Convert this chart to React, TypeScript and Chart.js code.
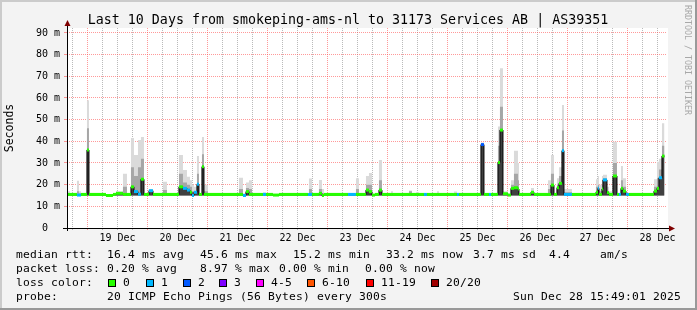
import React, { useEffect, useRef } from 'react';
import { Chart, registerables } from 'chart.js';

Chart.register(...registerables);

const MONO = '"DejaVu Sans Mono", "Liberation Mono", monospace';

const TITLE = 'Last 10 Days from smokeping-ams-nl to 31173 Services AB | AS39351';
const Y_TITLE = 'Seconds';
const CREDIT = 'RRDTOOL / TOBI OETIKER';

// x values are hours since 18 Dec 00:00
const X_MIN = 15.8167;
const X_MAX = 255.8167;
const DATA_END = 254.8;
const SMOKE_FLOOR = 15;

const segStart = [
  15.8, 17.0, 19.8, 20.6, 21.4, 23.8, 24.6, 31.4, 34.2, 35.4,
  38.2, 39.8, 41.4, 42.6, 44.2, 45.4, 46.6, 48.6, 50.2, 54.2,
  55.8, 60.6, 62.2, 63.8, 65.0, 65.8, 66.6, 67.8, 68.6, 69.8,
  70.6, 72.2, 84.6, 86.2, 87.4, 88.6, 89.8, 94.2, 95.4, 98.2,
  100.6, 112.2, 112.6, 113.8, 116.6, 117.8, 118.6, 128.2, 131.4, 132.6,
  135.4, 136.6, 137.8, 139.0, 140.6, 141.8, 145.4, 146.2, 152.6, 153.8,
  155.4, 156.6, 158.6, 159.8, 163.8, 164.6, 170.6, 171.8, 172.6, 181.4,
  182.6, 184.6, 185.4, 188.2, 189.0, 190.2, 192.2, 193.4, 194.6, 196.2,
  196.6, 201.4, 202.6, 208.2, 209.4, 210.6, 211.8, 212.6, 213.8, 214.6,
  217.8, 227.4, 228.2, 228.6, 229.8, 230.2, 231.8, 232.6, 234.2, 235.8,
  236.6, 237.4, 238.2, 239.4, 240.6, 250.6, 251.8, 252.6, 253.8,
];

const segMedian = [
  15.5, 15.5, 15.2, 15.2, 15.5, 36.0, 15.5, 15.0, 15.5, 16.0,
  15.5, 15.5, 19.0, 16.8, 15.6, 22.5, 15.5, 17.2, 15.5, 15.5,
  15.5, 19.0, 18.3, 17.5, 16.5, 15.0, 16.5, 20.2, 15.5, 28.3,
  15.5, 15.5, 15.5, 15.0, 16.8, 15.5, 15.5, 15.5, 15.5, 15.2,
  15.5, 15.5, 15.5, 15.5, 16.0, 15.0, 15.5, 15.5, 15.5, 15.5,
  17.5, 16.8, 15.2, 15.5, 17.5, 15.5, 15.5, 15.5, 15.5, 15.5,
  15.5, 15.5, 15.5, 15.5, 15.5, 15.5, 15.5, 15.5, 15.5, 38.5,
  15.5, 15.5, 15.5, 30.2, 45.2, 15.8, 15.2, 18.3, 18.6, 18.0,
  15.5, 16.5, 15.5, 15.5, 19.8, 15.5, 18.6, 20.6, 35.7, 15.5,
  15.5, 16.5, 18.3, 15.5, 18.0, 22.2, 16.3, 15.5, 24.0, 15.5,
  15.5, 18.3, 17.0, 15.5, 15.5, 17.0, 18.3, 23.2, 33.2,
];

const segLoss = [
  0, 0, 1, 1, 0, 0, 0, 0, 0, 0,
  0, 0, 0, 1, 1, 0, 0, 1, 0, 0,
  0, 0, 1, 1, 0, 1, 1, 1, 0, 0,
  0, 0, 0, 1, 0, 0, 0, 1, 0, 0,
  0, 1, 1, 0, 0, 0, 0, 1, 0, 0,
  0, 0, 0, 0, 0, 0, 0, 0, 0, 0,
  0, 0, 1, 0, 0, 0, 0, 1, 0, 2,
  0, 1, 0, 0, 0, 0, 0, 0, 0, 0,
  0, 0, 0, 0, 0, 0, 0, 0, 1, 1,
  0, 0, 1, 0, 0, 1, 0, 0, 0, 0,
  1, 0, 0, 1, 0, 0, 0, 1, 0,
];

const segSmokeHi = [
  17.0, 15.8, 21.8, 17.0, 16.0, 59.0, 15.8, 15.4, 15.8, 17.0,
  25.0, 16.0, 41.5, 33.7, 40.6, 42.0, 16.0, 18.0, 15.8, 21.4,
  15.8, 33.7, 26.8, 23.7, 22.0, 20.0, 19.0, 33.2, 16.0, 42.0,
  20.0, 15.8, 23.2, 16.0, 21.0, 22.0, 15.8, 16.5, 15.8, 15.5,
  15.8, 16.0, 22.9, 15.8, 22.2, 18.0, 15.8, 15.8, 23.0, 15.8,
  24.0, 25.4, 15.5, 15.8, 31.4, 15.8, 17.0, 15.8, 17.3, 15.8,
  16.5, 15.8, 15.8, 15.8, 17.0, 15.8, 16.8, 15.8, 15.8, 39.5,
  15.8, 15.8, 15.8, 46.8, 73.7, 17.0, 15.5, 22.0, 35.7, 30.0,
  15.8, 18.5, 15.8, 22.0, 33.7, 15.8, 23.0, 28.0, 56.8, 18.0,
  15.8, 22.5, 24.0, 20.0, 24.0, 24.6, 19.0, 17.0, 39.8, 16.0,
  15.8, 28.6, 23.0, 15.8, 15.8, 22.5, 30.6, 32.0, 48.3,
];

const segSmokeMid = [
  16.0, 15.6, 17.0, 16.0, 15.6, 46.0, 15.6, 15.2, 15.6, 16.5,
  19.0, 15.6, 28.0, 24.0, 28.0, 32.0, 15.6, 17.5, 15.6, 17.5,
  15.6, 25.0, 21.0, 20.0, 19.0, 17.0, 17.0, 25.0, 15.6, 34.0,
  17.0, 15.6, 18.0, 15.5, 18.5, 18.0, 15.6, 15.8, 15.6, 15.3,
  15.6, 15.6, 18.0, 15.6, 18.0, 16.0, 15.6, 15.6, 18.0, 15.6,
  20.0, 20.0, 15.3, 15.6, 22.0, 15.6, 16.0, 15.6, 17.0, 15.6,
  16.0, 15.6, 15.6, 15.6, 16.0, 15.6, 16.0, 15.6, 15.6, 38.5,
  15.6, 15.6, 15.6, 38.0, 56.0, 16.0, 15.3, 20.0, 25.0, 22.0,
  15.6, 17.0, 15.6, 18.0, 25.0, 15.6, 20.0, 24.0, 45.0, 16.5,
  15.6, 19.0, 20.0, 17.0, 20.0, 23.0, 17.0, 16.0, 30.0, 15.6,
  15.6, 22.0, 19.0, 15.6, 15.6, 19.0, 23.0, 27.0, 38.0,
];

const dayLabels = ['19 Dec', '20 Dec', '21 Dec', '22 Dec', '23 Dec', '24 Dec', '25 Dec', '26 Dec', '27 Dec', '28 Dec'];
const yLabelValues = [0, 10, 20, 30, 40, 50, 60, 70, 80, 90];
const yLabelTexts = ['0  ', '10 m', '20 m', '30 m', '40 m', '50 m', '60 m', '70 m', '80 m', '90 m'];

const lossColors = ['#26ff00', '#00b8ff', '#0059ff', '#7e00ff', '#ff00ff', '#ff5500', '#ff0000', '#a10000'];
const lossLabels = ['0', '1', '2', '3', '4-5', '6-10', '11-19', '20/20'];

const rttHeader = 'median rtt:';
const rttStats = ['16.4 ms avg', '45.6 ms max', '15.2 ms min', '33.2 ms now', '3.7 ms sd', '4.4', 'am/s'];
const lossHeader = 'packet loss:';
const lossStats = ['0.20 % avg', '8.97 % max', '0.00 % min', '0.00 % now'];
const colorHeader = 'loss color:';
const probeHeader = 'probe:';
const probeText = '20 ICMP Echo Pings (56 Bytes) every 300s';
const stampText = 'Sun Dec 28 15:49:01 2025';

const MAJOR = 'rgba(255,70,70,0.55)';
const MINOR = 'rgba(130,130,130,0.55)';

export default function App() {
  const ref = useRef<HTMLCanvasElement>(null);

  useEffect(() => {
    document.body.style.margin = '0';
    const canvas = ref.current;
    if (!canvas) return;

    const stepPts = (vals: number[]) => {
      const pts = segStart.map((x, i) => ({ x, y: vals[i] }));
      pts.push({ x: DATA_END, y: vals[vals.length - 1] });
      return pts;
    };

    const colored: { x: number; y: number | null; l: number }[] = [];
    segStart.forEach((s, i) => {
      const e = i + 1 < segStart.length ? segStart[i + 1] : DATA_END;
      colored.push({ x: s, y: segMedian[i], l: segLoss[i] });
      colored.push({ x: e, y: segMedian[i], l: segLoss[i] });
      colored.push({ x: e, y: null, l: segLoss[i] });
    });

    const framePlugin = {
      id: 'frame',
      beforeDraw(chart: any) {
        const { ctx, width, height, chartArea: a } = chart;
        ctx.save();
        ctx.fillStyle = '#f3f3f3';
        ctx.fillRect(0, 0, width, height);
        ctx.fillStyle = '#cbcbcb';
        ctx.fillRect(0, 0, width, 2);
        ctx.fillRect(0, 0, 2, height);
        ctx.fillStyle = '#999999';
        ctx.fillRect(0, height - 2, width, 2);
        ctx.fillRect(width - 2, 0, 2, height);
        ctx.fillStyle = '#ffffff';
        ctx.fillRect(a.left, a.top, a.right - a.left + 1, a.bottom - a.top);
        ctx.restore();
      },
      afterDatasetsDraw(chart: any) {
        const { ctx, chartArea: a } = chart;
        ctx.save();
        ctx.strokeStyle = '#000';
        ctx.lineWidth = 1;
        ctx.beginPath();
        ctx.moveTo(a.left + 0.5, a.bottom + 3);
        ctx.lineTo(a.left + 0.5, 22);
        ctx.stroke();
        ctx.beginPath();
        ctx.moveTo(a.left - 4, a.bottom + 0.5);
        ctx.lineTo(671, a.bottom + 0.5);
        ctx.stroke();
        ctx.fillStyle = '#7f0000';
        ctx.beginPath();
        ctx.moveTo(a.left - 2.5, 26);
        ctx.lineTo(a.left + 3.5, 26);
        ctx.lineTo(a.left + 0.5, 20);
        ctx.closePath();
        ctx.fill();
        ctx.beginPath();
        ctx.moveTo(669, a.bottom - 2.5);
        ctx.lineTo(669, a.bottom + 3.5);
        ctx.lineTo(675, a.bottom + 0.5);
        ctx.closePath();
        ctx.fill();
        ctx.restore();
      },
      afterDraw(chart: any) {
        const { ctx } = chart;
        ctx.save();
        ctx.fillStyle = '#000';
        ctx.textBaseline = 'alphabetic';
        ctx.font = `13.3px ${MONO}`;
        ctx.textAlign = 'center';
        ctx.fillText(TITLE, 348, 24);

        ctx.font = `11.3px ${MONO}`;
        try {
          (ctx as any).letterSpacing = '0.2px';
        } catch (e) {
          /* ignore */
        }
        ctx.textAlign = 'left';
        const rttX = [107, 200, 293, 386, 473, 549, 600];
        ctx.fillText(rttHeader, 16, 258);
        rttStats.forEach((t, i) => ctx.fillText(t, rttX[i], 258));
        const lossX = [107, 200, 279, 365];
        ctx.fillText(lossHeader, 16, 272);
        lossStats.forEach((t, i) => ctx.fillText(t, lossX[i], 272));
        ctx.fillText(colorHeader, 16, 286);
        const boxX = [108, 146, 183, 219, 256, 307, 366, 431];
        lossLabels.forEach((t, i) => {
          ctx.fillStyle = lossColors[i];
          ctx.fillRect(boxX[i], 279, 8, 8);
          ctx.strokeStyle = '#000';
          ctx.lineWidth = 1;
          ctx.strokeRect(boxX[i] + 0.5, 279.5, 7, 7);
          ctx.fillStyle = '#000';
          ctx.fillText(t, boxX[i] + 15, 286);
        });
        ctx.fillText(probeHeader, 16, 300);
        ctx.fillText(probeText, 107, 300);
        ctx.textAlign = 'right';
        ctx.fillText(stampText, 681, 300);
        try {
          (ctx as any).letterSpacing = '0px';
        } catch (e) {
          /* ignore */
        }

        ctx.translate(685, 5);
        ctx.rotate(Math.PI / 2);
        ctx.textAlign = 'left';
        ctx.font = `8.3px ${MONO}`;
        ctx.fillStyle = '#a8a8a8';
        ctx.fillText(CREDIT, 0, 0);
        ctx.restore();
      },
    };

    const chart = new Chart(canvas, {
      type: 'line',
      data: {
        datasets: [
          {
            data: colored as any,
            borderWidth: 3,
            borderCapStyle: 'butt',
            pointRadius: 0,
            fill: false,
            spanGaps: false,
            order: 1,
            segment: {
              borderColor: (c: any) => lossColors[colored[c.p0DataIndex].l],
            },
          } as any,
          {
            data: stepPts(segMedian),
            stepped: 'before',
            borderColor: '#000',
            borderWidth: 1,
            pointRadius: 0,
            fill: false,
            order: 2,
          },
          {
            data: stepPts(segMedian),
            stepped: 'before',
            borderColor: 'transparent',
            borderWidth: 0,
            backgroundColor: '#404040',
            pointRadius: 0,
            fill: { value: SMOKE_FLOOR },
            order: 3,
          },
          {
            data: stepPts(segSmokeMid),
            stepped: 'before',
            borderColor: 'transparent',
            borderWidth: 0,
            backgroundColor: '#a6a6a6',
            pointRadius: 0,
            fill: { value: SMOKE_FLOOR },
            order: 4,
          },
          {
            data: stepPts(segSmokeHi),
            stepped: 'before',
            borderColor: 'transparent',
            borderWidth: 0,
            backgroundColor: '#dadada',
            pointRadius: 0,
            fill: { value: SMOKE_FLOOR },
            order: 5,
          },
        ],
      },
      options: {
        animation: false,
        responsive: false,
        devicePixelRatio: 1,
        events: [],
        layout: { padding: { left: 0, right: 30, top: 28, bottom: 0 } },
        plugins: {
          legend: { display: false },
          tooltip: { enabled: false },
          title: { display: false },
        },
        scales: {
          x: {
            type: 'linear',
            min: X_MIN,
            max: X_MAX,
            afterBuildTicks: (s: any) => {
              const t: { value: number }[] = [];
              for (let h = 18; h <= X_MAX; h += 6) t.push({ value: h });
              s.ticks = t;
            },
            afterFit: (s: any) => {
              s.height = 82;
            },
            grid: {
              color: (c: any) => (c.tick && c.tick.value % 24 === 0 ? MAJOR : MINOR),
              lineWidth: 1,
              drawTicks: true,
              tickLength: 2,
            },
            border: { display: false, dash: [1, 1] },
            ticks: {
              autoSkip: false,
              maxRotation: 0,
              minRotation: 0,
              padding: 2,
              color: '#000',
              font: { family: MONO, size: 10 },
              callback: (v: any) => {
                const n = Number(v);
                if (n % 24 !== 12) return '';
                return dayLabels[(n - 36) / 24] ?? '';
              },
            },
          },
          y: {
            min: 0,
            max: 92.3,
            afterBuildTicks: (s: any) => {
              const t: { value: number }[] = [];
              for (let v = 0; v <= 90; v += 5) t.push({ value: v });
              s.ticks = t;
            },
            afterFit: (s: any) => {
              s.width = 67;
            },
            grid: {
              color: (c: any) => (c.tick && c.tick.value % 10 === 0 ? MAJOR : MINOR),
              lineWidth: 1,
              drawTicks: true,
              tickLength: 3,
            },
            border: { display: false, dash: [1, 1] },
            ticks: {
              padding: 4,
              color: '#000',
              font: { family: MONO, size: 10 },
              callback: (v: any) => {
                const idx = yLabelValues.indexOf(Number(v));
                return idx >= 0 ? yLabelTexts[idx] : '';
              },
            },
            title: {
              display: true,
              text: Y_TITLE,
              color: '#000',
              font: { family: MONO, size: 11.5 },
              padding: { top: 3, bottom: 0 },
            },
          },
        },
      },
      plugins: [framePlugin],
    } as any);

    return () => chart.destroy();
  }, []);

  return <canvas ref={ref} width={697} height={310} style={{ display: 'block' }} />;
}
